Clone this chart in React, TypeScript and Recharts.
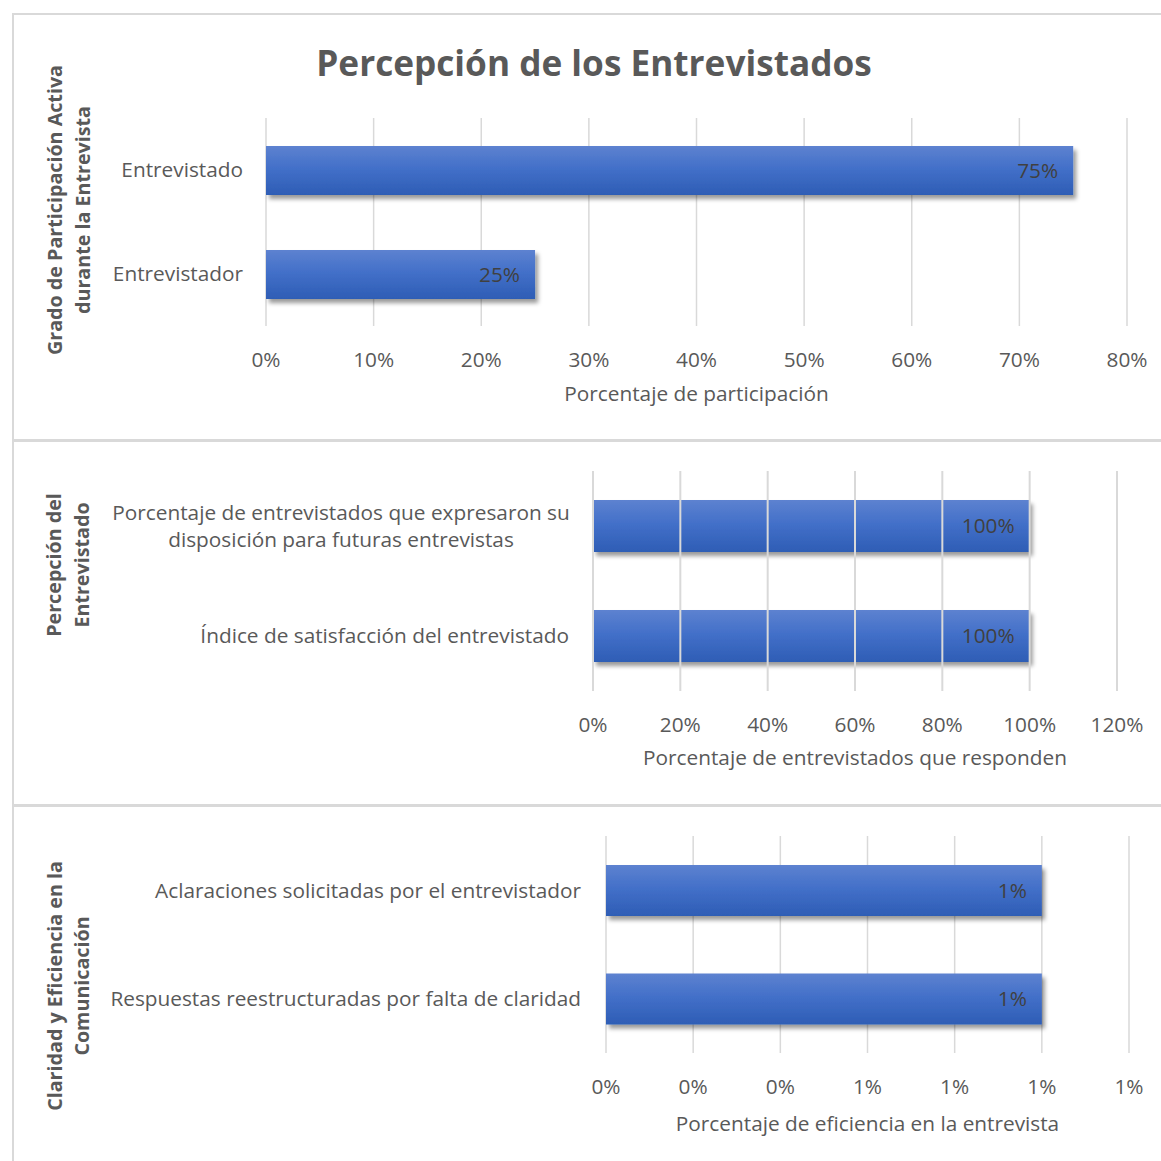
import React from 'react';
import { BarChart, Bar, XAxis, YAxis, CartesianGrid, LabelList, Label, ReferenceLine } from 'recharts';

const FONT = '"Open Sans", "DejaVu Sans", sans-serif';
const TEXT = '#595959';
const LABEL_TEXT = '#404040';
const GRID = '#d9d9d9';
const FS = 20.8;

const chartTitle = 'Percepción de los Entrevistados';

const participationCategories = ['Entrevistado', 'Entrevistador'];
const participationValues = [0.75, 0.25];
const participationTicks = [0, 0.1, 0.2, 0.3, 0.4, 0.5, 0.6, 0.7, 0.8];
const participationAxisTitle = ['Grado de Participación Activa', 'durante la Entrevista'];
const participationXTitle = 'Porcentaje de participación';

const perceptionCategories = [
  'Porcentaje de entrevistados que expresaron su disposición para futuras entrevistas',
  'Índice de satisfacción del entrevistado',
];
const perceptionValues = [1, 1];
const perceptionTicks = [0, 0.2, 0.4, 0.6, 0.8, 1.0, 1.2];
const perceptionAxisTitle = ['Percepción del', 'Entrevistado'];
const perceptionXTitle = 'Porcentaje de entrevistados que responden';

const clarityCategories = [
  'Aclaraciones solicitadas por el entrevistador',
  'Respuestas reestructuradas por falta de claridad',
];
const clarityValues = [0.01, 0.01];
const clarityTicks = [0, 0.002, 0.004, 0.006, 0.008, 0.01, 0.012];
const clarityAxisTitle = ['Claridad y Eficiencia en la', 'Comunicación'];
const clarityXTitle = 'Porcentaje de eficiencia en la entrevista';

const pct = (v: number) => `${Math.round(v * 100)}%`;

function wrapWords(text: string, maxChars: number): string[] {
  const words = text.split(' ');
  const lines: string[] = [];
  let cur = '';
  for (const w of words) {
    const next = cur ? cur + ' ' + w : w;
    if (next.length > maxChars && cur) {
      lines.push(cur);
      cur = w;
    } else {
      cur = next;
    }
  }
  if (cur) lines.push(cur);
  return lines;
}

const makeYTick = (maxChars: number, wrapWidth: number) => (props: any) => {
  const { x, y, payload } = props;
  const lines = wrapWords(String(payload.value), maxChars);
  const lh = 27;
  const cap = 0.355 * FS;
  if (lines.length === 1) {
    return (
      <text x={x} y={y + cap} textAnchor="end" fill={TEXT} fontSize={FS}>
        {lines[0]}
      </text>
    );
  }
  const cx = x - wrapWidth / 2;
  const start = y - ((lines.length - 1) * lh) / 2 + cap;
  return (
    <text x={cx} y={start} textAnchor="middle" fill={TEXT} fontSize={FS}>
      {lines.map((l, i) => (
        <tspan key={i} x={cx} y={start + i * lh}>
          {l}
        </tspan>
      ))}
    </text>
  );
};

type PanelProps = {
  id: string;
  top: number;
  height: number;
  categories: string[];
  values: number[];
  ticks: number[];
  yWidth: number;
  marginTop: number;
  marginRight: number;
  xAxisHeight: number;
  barSize: number;
  yTickMargin: number;
  xTickMargin: number;
  xTitle: string;
  xTitleOffset: number;
  axisTitle: string[];
  axisTitleX: [number, number];
  axisTitleCy: number;
  gridOnTop?: boolean;
  maxChars: number;
  wrapWidth: number;
  mainTitle?: string;
};

function Panel(p: PanelProps) {
  const data = p.categories.map((name, i) => ({ name, value: p.values[i] }));
  const domainMax = p.ticks[p.ticks.length - 1];
  const gradId = `grad-${p.id}`;
  const shadowId = `shadow-${p.id}`;
  const BarShape = (s: any) => (
    <rect x={s.x} y={s.y} width={s.width} height={s.height} fill={`url(#${gradId})`} filter={`url(#${shadowId})`} />
  );
  const titleContent = () => (
    <g>
      <text
        transform={`translate(0, ${p.axisTitleCy}) rotate(-90)`}
        textAnchor="middle"
        fill={TEXT}
        fontSize={19.7}
        fontWeight={700}
      >
        <tspan x={0} y={p.axisTitleX[0]}>{p.axisTitle[0]}</tspan>
        <tspan x={0} y={p.axisTitleX[1]}>{p.axisTitle[1]}</tspan>
      </text>
      {p.mainTitle ? (
        <text x={594} y={76} textAnchor="middle" fill={TEXT} fontSize={35.2} fontWeight={700}>
          {p.mainTitle}
        </text>
      ) : null}
    </g>
  );
  return (
    <div style={{ position: 'absolute', left: 0, top: p.top }}>
      <BarChart
        width={1161}
        height={p.height}
        data={data}
        layout="vertical"
        margin={{ top: p.marginTop, right: p.marginRight, left: 0, bottom: 0 }}
      >
        <defs>
          <linearGradient id={gradId} x1="0" y1="0" x2="0" y2="1">
            <stop offset="0%" stopColor="#5d82d0" />
            <stop offset="45%" stopColor="#4370c9" />
            <stop offset="100%" stopColor="#2e5db5" />
          </linearGradient>
          <filter id={shadowId} x="-5%" y="-30%" width="110%" height="170%">
            <feDropShadow dx="3" dy="4" stdDeviation="2" floodColor="#000" floodOpacity="0.4" />
          </filter>
        </defs>
        {!p.gridOnTop && <CartesianGrid horizontal={false} stroke={GRID} strokeWidth={1.5} />}
        <XAxis
          type="number"
          domain={[0, domainMax]}
          ticks={p.ticks}
          tickFormatter={pct}
          axisLine={false}
          tickLine={false}
          tickSize={0}
          tickMargin={p.xTickMargin}
          height={p.xAxisHeight}
          tick={{ fill: TEXT, fontSize: FS }}
          interval={0}
        >
          <Label value={p.xTitle} position="insideBottom" offset={p.xTitleOffset} fill={TEXT} fontSize={FS} />
        </XAxis>
        <YAxis
          type="category"
          dataKey="name"
          width={p.yWidth}
          axisLine={false}
          tickLine={false}
          tickSize={0}
          tickMargin={p.yTickMargin}
          tick={makeYTick(p.maxChars, p.wrapWidth)}
          interval={0}
        >
          <Label content={titleContent} />
        </YAxis>
        <Bar dataKey="value" barSize={p.barSize} shape={BarShape} isAnimationActive={false}>
          <LabelList dataKey="value" position="insideRight" offset={15} formatter={pct} fill={LABEL_TEXT} fontSize={FS} />
        </Bar>
        {p.gridOnTop &&
          p.ticks.map((t) => <ReferenceLine key={t} x={t} stroke={GRID} strokeWidth={2} />)}
      </BarChart>
    </div>
  );
}

export default function App() {
  return (
    <div
      style={{
        position: 'absolute',
        left: 0,
        top: 0,
        width: 1161,
        height: 1161,
        background: '#fff',
        fontFamily: FONT,
        overflow: 'hidden',
      }}
    >
      <div style={{ position: 'absolute', left: 12, top: 13, width: 2, height: 1148, background: GRID }} />
      <div style={{ position: 'absolute', left: 12, top: 13, width: 1149, height: 2, background: GRID }} />
      <div style={{ position: 'absolute', left: 12, top: 439, width: 1149, height: 3, background: GRID }} />
      <div style={{ position: 'absolute', left: 12, top: 804, width: 1149, height: 3, background: GRID }} />

      <Panel
        id="p1"
        top={0}
        height={440}
        categories={participationCategories}
        values={participationValues}
        ticks={participationTicks}
        yWidth={266}
        marginTop={118}
        marginRight={34}
        xAxisHeight={114}
        barSize={49}
        yTickMargin={23}
        xTickMargin={26}
        xTitle={participationXTitle}
        xTitleOffset={39}
        axisTitle={participationAxisTitle}
        axisTitleX={[62, 90]}
        axisTitleCy={210}
        maxChars={60}
        wrapWidth={0}
        mainTitle={chartTitle}
      />
      <Panel
        id="p2"
        top={440}
        height={365}
        categories={perceptionCategories}
        values={perceptionValues}
        ticks={perceptionTicks}
        yWidth={593}
        marginTop={31}
        marginRight={44}
        xAxisHeight={114}
        barSize={52}
        yTickMargin={24}
        xTickMargin={26}
        xTitle={perceptionXTitle}
        xTitleOffset={40}
        axisTitle={perceptionAxisTitle}
        axisTitleX={[61, 89]}
        axisTitleCy={125}
        gridOnTop
        maxChars={46}
        wrapWidth={456}
      />
      <Panel
        id="p3"
        top={805}
        height={356}
        categories={clarityCategories}
        values={clarityValues}
        ticks={clarityTicks}
        yWidth={606}
        marginTop={31}
        marginRight={32}
        xAxisHeight={108}
        barSize={51}
        yTickMargin={25}
        xTickMargin={26}
        xTitle={clarityXTitle}
        xTitleOffset={30}
        axisTitle={clarityAxisTitle}
        axisTitleX={[62, 89]}
        axisTitleCy={181}
        maxChars={60}
        wrapWidth={0}
      />
    </div>
  );
}
